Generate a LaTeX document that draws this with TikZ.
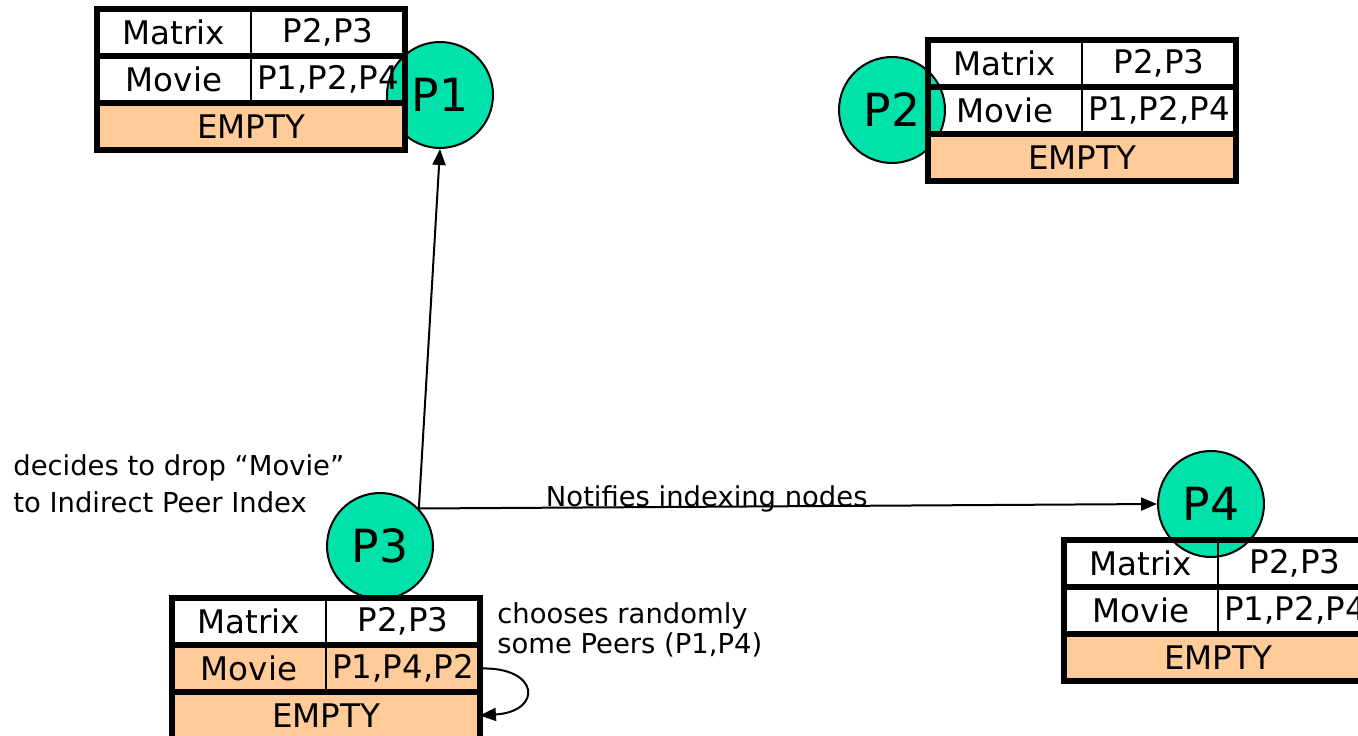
\documentclass[tikz,border=0pt]{standalone}
\usepackage{xcolor}
\usepackage{fontspec}
\setmainfont{DejaVu Sans}
\usetikzlibrary{positioning,arrows.meta}

\definecolor{peach}{RGB}{255,204,153}
\definecolor{peergreen}{RGB}{0,226,170}

\tikzset{
  peer/.style={shape=circle,draw=black,line width=0.04cm,fill=peergreen,minimum size=2.12cm,inner sep=0pt,font=\fontsize{26}{26}\selectfont},
  cell/.style={inner sep=0pt,outer sep=0pt,minimum width=3.08cm,minimum height=0.94cm,font=\fontsize{18.5}{18.5}\selectfont},
  widecell/.style={cell,minimum width=6.16cm},
  orangefill/.style={fill=peach},
  bold rule/.style={line width=0.12cm},
  thin rule/.style={line width=0.04cm},
  note/.style={inner sep=0pt,align=left,anchor=north west,font=\fontsize{15.6}{21.5}\selectfont},
  arr/.style={line width=0.04cm,-{Triangle[length=0.32cm,width=0.26cm]}}
}

% index table of a peer: name, top left corner, peers of "Movie", style of the "Movie" row
\newcommand{\peertable}[4]{
  \node[cell,anchor=north west] (#1mk) at #2 {Matrix};
  \node[cell,right=0pt of #1mk] (#1mv) {P2,P3};
  \node[cell,#4,below=0pt of #1mk] (#1vk) {Movie};
  \node[cell,#4,right=0pt of #1vk] (#1vv) {#3};
  \node[widecell,orangefill,anchor=north west] (#1e) at (#1vk.south west) {EMPTY};
  \draw[thin rule] (#1mv.north west) -- (#1vv.south west);
  \draw[bold rule] (#1mk.south west) -- (#1mv.south east);
  \draw[bold rule] (#1vk.south west) -- (#1vv.south east);
  \draw[bold rule] (#1mk.north west) rectangle (#1e.south east);
}

\begin{document}
\begin{tikzpicture}[x=0.02cm,y=-0.02cm]
\useasboundingbox (0,0) rectangle (1358,736);

% peers
\node[peer] (P1) at (440,95) {P1};
\node[peer] (P2) at (892,110) {P2};
\node[peer] (P3) at (380,546) {P3};
\node[peer] (P4) at (1211,504) {P4};

% index tables
\peertable{T1}{(97,9)}{P1,P2,P4}{}
\peertable{T2}{(928,40)}{P1,P2,P4}{}
\peertable{T3}{(172,598)}{P1,P4,P2}{orangefill}
\peertable{T4}{(1064,540)}{P1,P2,P4}{}

% notifications
\coordinate (src) at (P3.44);
\draw[arr] (src) -- (P1.south);
\draw[arr] (src) -- node[pos=0.39,anchor=base,inner sep=0pt,font=\fontsize{15.6}{15.6}\selectfont] (notify) {Notifies indexing nodes} (P4.west);

% notes
\node[note] (drop) at (13,454) {decides to drop “Movie”\\to Indirect Peer Index};
\node[note,font=\fontsize{15.6}{17}\selectfont] (choose) at (497,602) {chooses randomly\\some Peers (P1,P4)};
\draw[arr] (T3vv.east) .. controls +(60,-2) and +(63,-4) .. (T3e.east);
\end{tikzpicture}
\end{document}
